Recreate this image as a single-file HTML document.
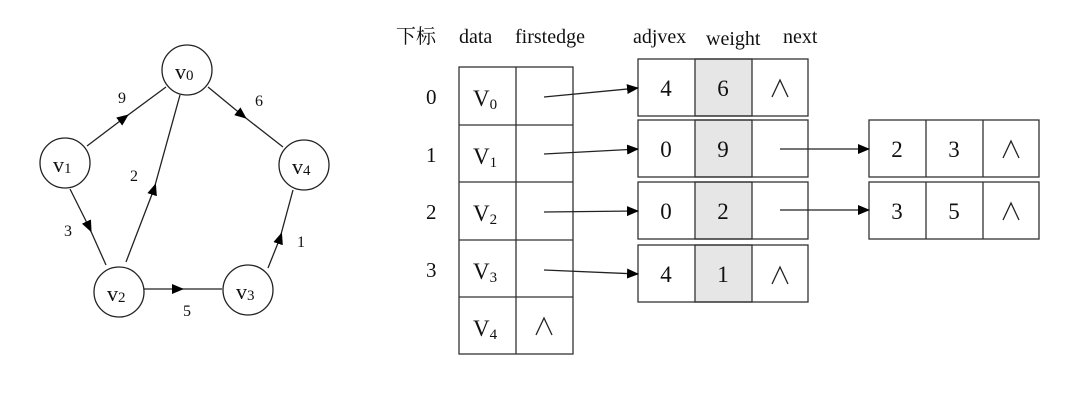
<!DOCTYPE html>
<html><head><meta charset="utf-8"><style>
html,body{margin:0;padding:0;background:#fff;}
svg{display:block;}
text{font-family:"Liberation Serif","Noto Serif CJK SC",serif;fill:#111;}
</style></head><body>
<svg width="1071" height="403" viewBox="0 0 1071 403" xmlns="http://www.w3.org/2000/svg">
<defs>
<marker id="a" markerWidth="12" markerHeight="10" refX="11" refY="5" orient="auto" markerUnits="userSpaceOnUse"><path d="M0,0 L12,5 L0,10 z" fill="#000"/></marker>
<marker id="m" markerWidth="12" markerHeight="10" refX="6" refY="5" orient="auto" markerUnits="userSpaceOnUse"><path d="M0,0 L12,5 L0,10 z" fill="#000"/></marker>
</defs>
<g stroke="#222" stroke-width="1.3" fill="none">
<!-- graph edges with mid arrows -->
<polyline points="87,146 124,118 166,87" marker-mid="url(#m)"/>
<polyline points="208,87 242,115 283,147" marker-mid="url(#m)"/>
<polyline points="126,262 154,189 180,95" marker-mid="url(#m)"/>
<polyline points="70,189 89,227 106,265" marker-mid="url(#m)"/>
<polyline points="144,289 178,289 222,289" marker-mid="url(#m)"/>
<polyline points="268,268 280,238 293,190" marker-mid="url(#m)"/>
<circle cx="187" cy="70" r="25" fill="#fff"/>
<circle cx="65" cy="163" r="25" fill="#fff"/>
<circle cx="304" cy="165" r="25" fill="#fff"/>
<circle cx="119" cy="292" r="25" fill="#fff"/>
<circle cx="248" cy="290" r="25" fill="#fff"/>
</g>
<g font-size="22">
<text x="175" y="79">v<tspan font-size="15" dy="1">0</tspan></text>
<text x="53" y="172">v<tspan font-size="15" dy="1">1</tspan></text>
<text x="292" y="174">v<tspan font-size="15" dy="1">4</tspan></text>
<text x="107" y="301">v<tspan font-size="15" dy="1">2</tspan></text>
<text x="236" y="299">v<tspan font-size="15" dy="1">3</tspan></text>
</g>
<g font-size="16">
<text x="118" y="103">9</text>
<text x="255" y="106">6</text>
<text x="130" y="181">2</text>
<text x="64" y="236">3</text>
<text x="183" y="316">5</text>
<text x="297" y="247">1</text>
</g>
<!-- headers -->
<g font-size="20">
<text x="396" y="43">下标</text>
<text x="459" y="43">data</text>
<text x="515" y="43">firstedge</text>
<text x="633" y="43">adjvex</text>
<text x="706" y="45">weight</text>
<text x="783" y="43">next</text>
</g>
<g font-size="21">
<text x="426" y="104">0</text>
<text x="426" y="162">1</text>
<text x="426" y="219">2</text>
<text x="426" y="277">3</text>
</g>
<!-- vertex table -->
<g stroke="#333" stroke-width="1.3" fill="none">
<rect x="459" y="67" width="114" height="287"/>
<line x1="516" y1="67" x2="516" y2="354"/>
<line x1="459" y1="125" x2="573" y2="125"/>
<line x1="459" y1="182" x2="573" y2="182"/>
<line x1="459" y1="240" x2="573" y2="240"/>
<line x1="459" y1="297" x2="573" y2="297"/>
</g>
<g font-size="23">
<text x="473" y="106">V<tspan font-size="15" dy="3">0</tspan></text>
<text x="473" y="164">V<tspan font-size="15" dy="3">1</tspan></text>
<text x="473" y="221">V<tspan font-size="15" dy="3">2</tspan></text>
<text x="473" y="279">V<tspan font-size="15" dy="3">3</tspan></text>
<text x="473" y="336">V<tspan font-size="15" dy="3">4</tspan></text>
</g>
<!-- edge nodes -->
<g stroke="#333" stroke-width="1.3">
<rect x="695" y="59" width="57" height="57" fill="#e6e6e6"/>
<rect x="695" y="120" width="57" height="57" fill="#e6e6e6"/>
<rect x="695" y="182" width="57" height="57" fill="#e6e6e6"/>
<rect x="695" y="245" width="57" height="57" fill="#e6e6e6"/>
<rect x="638" y="59" width="170" height="57" fill="none"/>
<rect x="638" y="120" width="170" height="57" fill="none"/>
<rect x="638" y="182" width="170" height="57" fill="none"/>
<rect x="638" y="245" width="170" height="57" fill="none"/>
<rect x="869" y="120" width="170" height="57" fill="none"/>
<rect x="869" y="182" width="170" height="57" fill="none"/>
<line x1="926" y1="120" x2="926" y2="177"/><line x1="983" y1="120" x2="983" y2="177"/>
<line x1="926" y1="182" x2="926" y2="239"/><line x1="983" y1="182" x2="983" y2="239"/>
</g>
<g font-size="23" text-anchor="middle">
<text x="666" y="96">4</text><text x="723" y="96">6</text>
<text x="666" y="157">0</text><text x="723" y="157">9</text>
<text x="666" y="219">0</text><text x="723" y="219">2</text>
<text x="666" y="282">4</text><text x="723" y="282">1</text>
<text x="897" y="157">2</text><text x="954" y="157">3</text>
<text x="897" y="219">3</text><text x="954" y="219">5</text>
</g>
<g stroke="#222" stroke-width="1.3" fill="none">
<polyline points="772,97 780,80 788,97"/>
<polyline points="772,284 780,267 788,284"/>
<polyline points="536,335 544,318 552,335"/>
<polyline points="1003,158 1011,141 1019,158"/>
<polyline points="1003,220 1011,203 1019,220"/>
<line x1="544" y1="97" x2="638" y2="88" marker-end="url(#a)"/>
<line x1="544" y1="154" x2="638" y2="149" marker-end="url(#a)"/>
<line x1="544" y1="212" x2="638" y2="211" marker-end="url(#a)"/>
<line x1="544" y1="270" x2="638" y2="274" marker-end="url(#a)"/>
<line x1="780" y1="149" x2="869" y2="149" marker-end="url(#a)"/>
<line x1="780" y1="210" x2="869" y2="210" marker-end="url(#a)"/>
</g>
</svg>
</body></html>
